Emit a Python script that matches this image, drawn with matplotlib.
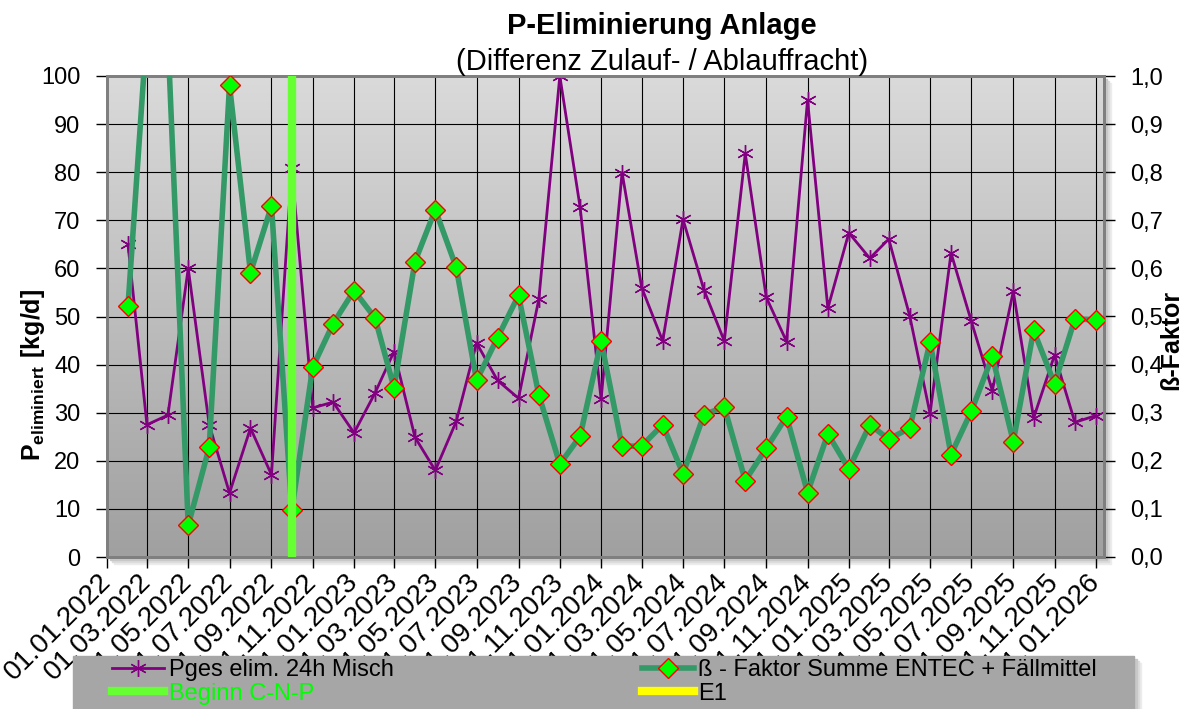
import numpy as np
import pandas as pd
import matplotlib
matplotlib.use("Agg")
from matplotlib import pyplot as plt
import matplotlib.dates as mdates
from matplotlib.colors import LinearSegmentedColormap
from matplotlib.lines import Line2D
from matplotlib.patches import Rectangle
from matplotlib.ticker import FuncFormatter, MultipleLocator

plt.rcParams['font.family'] = ['Liberation Sans', 'DejaVu Sans']
plt.rcParams['mathtext.fontset'] = 'custom'
plt.rcParams['mathtext.rm'] = 'Liberation Sans'
plt.rcParams['mathtext.bf'] = 'Liberation Sans:bold'

# monthly values, Feb 2022 .. Jan 2026
dates = pd.date_range('2022-02-01', periods=48, freq='MS')
pges_elim = [65.0, 27.5, 29.5, 60.0, 27.5, 13.3, 26.8, 17.1, 80.8, 31.0, 32.2,
             25.8, 34.1, 42.7, 24.9, 18.0, 28.2, 44.5, 36.7, 33.0, 53.6, 100.0, 72.7, 32.8,
             79.9, 56.0, 44.9, 70.2, 55.5, 44.9, 83.9, 54.0, 44.8, 95.0, 51.7, 67.4,
             62.1, 66.1, 50.1, 29.8, 63.2, 49.0, 34.6, 55.2, 28.9, 42.0, 28.0, 29.4]
beta_faktor = [0.521, 1.10, 1.08, 0.066, 0.228, 0.981, 0.591, 0.730, 0.097, 0.395, 0.485,
               0.554, 0.497, 0.352, 0.614, 0.722, 0.602, 0.367, 0.456, 0.544, 0.337, 0.193, 0.251, 0.449,
               0.230, 0.231, 0.275, 0.173, 0.296, 0.312, 0.159, 0.226, 0.292, 0.134, 0.256, 0.183,
               0.275, 0.245, 0.268, 0.447, 0.213, 0.303, 0.417, 0.240, 0.471, 0.360, 0.495, 0.493]
beginn_cnp = pd.Timestamp('2022-10-01')
x_start = pd.Timestamp('2022-01-01')
x_end = pd.Timestamp('2026-01-13')

W, H = 1190, 709
fig = plt.figure(figsize=(W / 100, H / 100), dpi=100)
x0, x1, ytop, ybot = 107, 1104, 76, 557
rect = [x0 / W, 1 - ybot / H, (x1 - x0) / W, (ybot - ytop) / H]

# soft shadows behind plot area and legend box
lx0, lx1, ly0 = 73, 1134, 656
lrect = [lx0 / W, 0, (lx1 - lx0) / W, 1 - ly0 / H]
for k, c in [(7, '#ececec'), (5, '#dcdcdc'), (3, '#c8c8c8')]:
    fig.patches.append(Rectangle((rect[0] + k / W, rect[1] - k / H), rect[2], rect[3],
                                 transform=fig.transFigure, color=c, zorder=-5))
    fig.patches.append(Rectangle((lrect[0] + k / W, lrect[1] - k / H), lrect[2], lrect[3],
                                 transform=fig.transFigure, color=c, zorder=1))
fig.patches.append(Rectangle((lrect[0], lrect[1]), lrect[2], lrect[3],
                             transform=fig.transFigure, color='#a6a6a6', zorder=1.5))

# gradient plot background in its own axes
bg = fig.add_axes(rect, zorder=-1)
grad = LinearSegmentedColormap.from_list('bg', ['#dadada', '#a0a0a0'])
bg.imshow(np.linspace(0, 1, 256).reshape(-1, 1), cmap=grad, aspect='auto')
bg.axis('off')

ax = fig.add_axes(rect, zorder=0)
ax.patch.set_visible(False)
ax.plot(dates, pges_elim, color='#800080', lw=2.0, marker=(6, 2, 0), ms=12,
        mec='#800080', mew=1.0, zorder=3)
ax.set_xlim(x_start, x_end)
ax.set_ylim(0, 100)
ax.yaxis.set_major_locator(MultipleLocator(10))
ax.xaxis.set_major_locator(mdates.MonthLocator(bymonth=[1, 3, 5, 7, 9, 11]))
ax.xaxis.set_major_formatter(mdates.DateFormatter('%d.%m.%Y'))
ax.grid(True, color='black', lw=0.8)
ax.set_axisbelow(True)
ax.tick_params(axis='y', labelsize=17, length=8, width=1, pad=11)
ax.tick_params(axis='x', labelsize=20, length=8, width=1, pad=7)
for lab in ax.get_xticklabels():
    lab.set_rotation(45)
    lab.set_ha('right')
    lab.set_va('center')
    lab.set_rotation_mode('anchor')

ax2 = ax.twinx()
ax2.plot(dates, beta_faktor, color='#339966', lw=4.0, marker='D', ms=10,
         mfc='#00ff00', mec='#ff0000', mew=1.0, zorder=3)
ax2.axvline(beginn_cnp, color='#66ff33', lw=6, zorder=4)
ax2.set_ylim(0, 1)
ax2.yaxis.set_major_locator(MultipleLocator(0.1))
ax2.yaxis.set_major_formatter(FuncFormatter(lambda v, p: f'{v:.1f}'.replace('.', ',')))
ax2.tick_params(axis='y', labelsize=17, length=8, width=1, pad=11)
ax2.set_xlim(x_start, x_end)

for a in (ax, ax2):
    for s in a.spines.values():
        s.set_color('#7f7f7f')
        s.set_linewidth(2)

fig.text(662 / W, 1 - 26 / H, 'P-Eliminierung Anlage', ha='center', va='center',
         fontsize=21, fontweight='bold')
fig.text(662 / W, 1 - 62 / H, '(Differenz Zulauf- / Ablauffracht)', ha='center',
         va='center', fontsize=21)
fig.text(33 / W, 1 - 375 / H, r'$\mathbf{P_{eliminiert}\ [kg/d]}$', rotation=90,
         ha='center', va='center', fontsize=18)
fig.text(1171 / W, 1 - 340 / H, 'ß-Faktor', rotation=90, ha='center', va='center',
         fontsize=18, fontweight='bold')

handles = [
    Line2D([], [], color='#800080', lw=2.0, marker=(6, 2, 0), ms=12, mew=1.0),
    Line2D([], [], color='#66ff33', lw=6),
    Line2D([], [], color='#339966', lw=4.0, marker='D', ms=10, mfc='#00ff00',
           mec='#ff0000', mew=1.0),
    Line2D([], [], color='#ffff00', lw=6),
]
labels = ['Pges elim. 24h Misch', 'Beginn C-N-P',
          'ß - Faktor Summe ENTEC + Fällmittel', 'E1']
leg = fig.legend(handles, labels, ncol=2, loc='upper left',
                 bbox_to_anchor=(110 / W, 1 - 657 / H), fontsize=17, frameon=False,
                 borderaxespad=0, borderpad=0.1, handlelength=2.2,
                 handletextpad=0.2, columnspacing=10.5, labelspacing=0.05)
leg.set_zorder(5)
leg.get_texts()[1].set_color('#00ff00')

fig.savefig('out.png', dpi=100)
